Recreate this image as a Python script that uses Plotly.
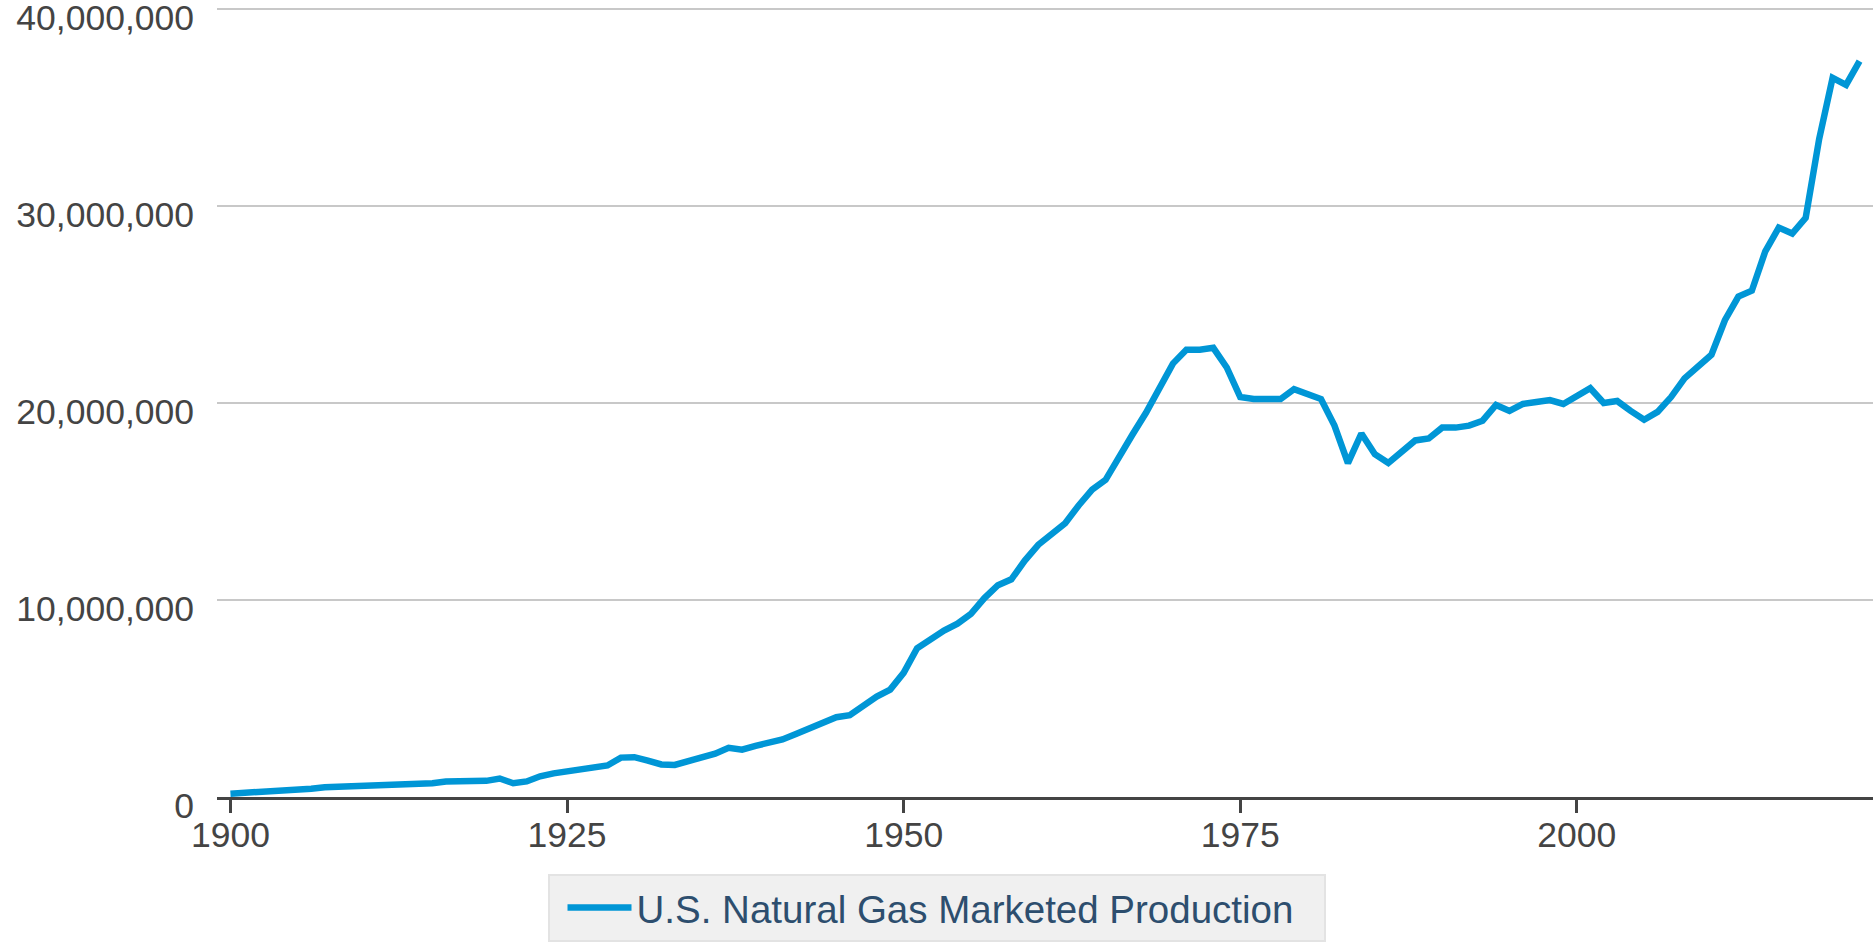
import plotly.graph_objects as go

years = list(range(1900, 2022))

# U.S. natural gas marketed production, millions of MMcf
production_millions = [
    0.17, 0.20, 0.30, 0.30, 0.30, 0.38, 0.42, 0.50, 0.52, 0.52,   # 1900-1909
    0.58, 0.62, 0.62, 0.63, 0.63, 0.70, 0.79, 0.81, 0.81, 0.82,   # 1910-1919
    0.94, 0.70, 0.79, 1.05, 1.20, 1.30, 1.40, 1.50, 1.60, 2.00,   # 1920-1929
    2.02, 1.85, 1.65, 1.63, 1.80, 2.00, 2.20, 2.50, 2.40, 2.60,   # 1930-1939
    2.75, 2.92, 3.20, 3.50, 3.80, 4.05, 4.15, 4.60, 5.10, 5.45,   # 1940-1949
    6.30, 7.55, 8.00, 8.45, 8.80, 9.30, 10.10, 10.75, 11.05, 12.00,  # 1950-1959
    12.80, 13.30, 13.90, 14.80, 15.60, 16.10, 17.30, 18.40, 19.50, 20.80,  # 1960-1969
    22.00, 22.70, 22.70, 22.80, 21.80, 20.30, 20.20, 20.20, 20.20, 20.70,  # 1970-1979
    20.45, 20.20, 18.85, 16.95, 18.45, 17.40, 16.95, 17.55, 18.10, 18.20,  # 1980-1989
    18.75, 18.75, 18.85, 19.10, 19.90, 19.60, 19.95, 20.05, 20.15, 19.95,  # 1990-1999
    20.35, 20.75, 20.00, 20.10, 19.60, 19.15, 19.55, 20.30, 21.25, 21.80,  # 2000-2009
    22.45, 24.20, 25.40, 25.70, 27.70, 28.90, 28.60, 29.40, 33.40, 36.50,  # 2010-2019
    36.15, 37.35,                                                   # 2020-2021
]
production = [v * 1_000_000 for v in production_millions]

series_name = "U.S. Natural Gas Marketed Production"
x_ticks = [1900, 1925, 1950, 1975, 2000]
y_ticks = [0, 10_000_000, 20_000_000, 30_000_000, 40_000_000]
y_tick_text = ["0", "10,000,000", "20,000,000", "30,000,000", "40,000,000"]

fig = go.Figure()
fig.add_trace(go.Scatter(
    x=years, y=production, mode="lines", name=series_name,
    line=dict(color="#0096d6", width=6.5),
    showlegend=True,
))

fig.update_layout(
    width=1875, height=944,
    margin=dict(l=217, r=2, t=7, b=147, autoexpand=False),
    paper_bgcolor="white", plot_bgcolor="white",
    font=dict(family="Liberation Sans, Arial, sans-serif", color="#444444"),
    showlegend=True,
    legend=dict(
        orientation="h",
        xref="container", yref="container",
        x=(548 + 1325) / 2 / 1875, xanchor="center", y=1 - 874 / 944, yanchor="top",
        bgcolor="#f0f0f0", bordercolor="#e3e3e3", borderwidth=2,
        font=dict(size=38.5, color="#2d4e6e", family="Liberation Sans, Arial, sans-serif"),
        itemwidth=64,
        indentation=13,
        entrywidth=682,
    ),
)

fig.update_xaxes(
    range=[1899, 2022],
    tickvals=x_ticks, ticktext=[str(t) for t in x_ticks],
    showgrid=False, zeroline=False, automargin=False,
    showline=True, linecolor="#444444", linewidth=3,
    ticks="outside", ticklen=13, tickwidth=2.5, tickcolor="#444444",
    ticklabelstandoff=-9,
    tickfont=dict(size=35.5, color="#444444"),
)
fig.update_yaxes(
    range=[0, 40_100_000],
    tickvals=y_ticks, ticktext=y_tick_text,
    showgrid=True, gridcolor="#c8c8c8", gridwidth=2,
    zeroline=False, showline=False, automargin=False,
    ticks="", ticklabelstandoff=22, ticklabelshift=9,
    ticklabeloverflow="allow",
    tickfont=dict(size=35.5, color="#444444"),
)

fig.write_html(
    "out.html",
    config={"displayModeBar": False},
    post_script="document.body.style.margin='0';",
)
